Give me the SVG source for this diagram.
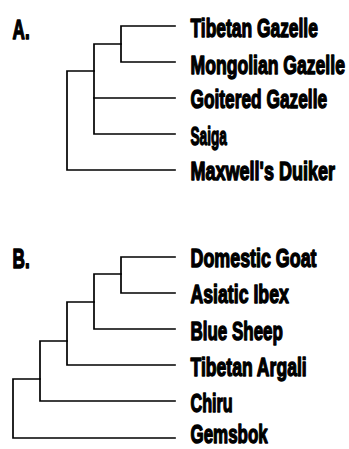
<svg xmlns="http://www.w3.org/2000/svg" width="349" height="449" viewBox="0 0 349 449">
<style>
.bg{fill:#fff}
.br{fill:none;stroke:#000;stroke-width:1.7;stroke-linecap:square;stroke-linejoin:miter}
.lb{font-family:"Liberation Sans",Arial,sans-serif;font-weight:bold;font-size:26px;fill:#000;stroke:#000;stroke-width:1.4;stroke-linejoin:round}
.hd{font-family:"Liberation Sans",Arial,sans-serif;font-weight:bold;font-size:28px;fill:#000;stroke:#000;stroke-width:1.5;stroke-linejoin:round}
</style>
<rect class="bg" x="0" y="0" width="349" height="449"/>
<g id="connectors">
<path class="br" d="M175,26 H121 V62 H175"/>
<path class="br" d="M121,44 H94 V134 H175"/>
<path class="br" d="M94,98 H175"/>
<path class="br" d="M94,71 H67 V170 H175"/>
<path class="br" d="M175,257 H121 V293 H175"/>
<path class="br" d="M121,274 H94 V329 H175"/>
<path class="br" d="M94,302 H67 V365 H175"/>
<path class="br" d="M67,341 H40 V401 H175"/>
<path class="br" d="M40,379 H13 V438 H175"/>
</g>
<g id="heading-a" transform="translate(12.5,38.5) scale(0.66,1)"><text class="hd" x="0" y="0" textLength="26" lengthAdjust="spacingAndGlyphs">A.</text></g>
<g id="heading-b" transform="translate(12.5,267.5) scale(0.66,1)"><text class="hd" x="0" y="0" textLength="26" lengthAdjust="spacingAndGlyphs">B.</text></g>
<g id="node-tibetan-gazelle" transform="translate(190.5,37) scale(0.66,1)"><text class="lb" x="0" y="0" textLength="193" lengthAdjust="spacingAndGlyphs">Tibetan Gazelle</text></g>
<g id="node-mongolian-gazelle" transform="translate(190.5,74) scale(0.66,1)"><text class="lb" x="0" y="0" textLength="234" lengthAdjust="spacingAndGlyphs">Mongolian Gazelle</text></g>
<g id="node-goitered-gazelle" transform="translate(190.5,108) scale(0.66,1)"><text class="lb" x="0" y="0" textLength="207" lengthAdjust="spacingAndGlyphs">Goitered Gazelle</text></g>
<g id="node-saiga" transform="translate(190.5,145) scale(0.66,1)"><text class="lb" x="0" y="0" textLength="55" lengthAdjust="spacingAndGlyphs">Saiga</text></g>
<g id="node-maxwells-duiker" transform="translate(190.5,180) scale(0.66,1)"><text class="lb" x="0" y="0" textLength="219" lengthAdjust="spacingAndGlyphs">Maxwell's Duiker</text></g>
<g id="node-domestic-goat" transform="translate(190.5,267) scale(0.66,1)"><text class="lb" x="0" y="0" textLength="191" lengthAdjust="spacingAndGlyphs">Domestic Goat</text></g>
<g id="node-asiatic-ibex" transform="translate(190.5,303) scale(0.66,1)"><text class="lb" x="0" y="0" textLength="149" lengthAdjust="spacingAndGlyphs">Asiatic Ibex</text></g>
<g id="node-blue-sheep" transform="translate(190.5,340) scale(0.66,1)"><text class="lb" x="0" y="0" textLength="140" lengthAdjust="spacingAndGlyphs">Blue Sheep</text></g>
<g id="node-tibetan-argali" transform="translate(190.5,376) scale(0.66,1)"><text class="lb" x="0" y="0" textLength="176" lengthAdjust="spacingAndGlyphs">Tibetan Argali</text></g>
<g id="node-chiru" transform="translate(190.5,412) scale(0.66,1)"><text class="lb" x="0" y="0" textLength="64" lengthAdjust="spacingAndGlyphs">Chiru</text></g>
<g id="node-gemsbok" transform="translate(190.5,443) scale(0.66,1)"><text class="lb" x="0" y="0" textLength="117" lengthAdjust="spacingAndGlyphs">Gemsbok</text></g>
</svg>
